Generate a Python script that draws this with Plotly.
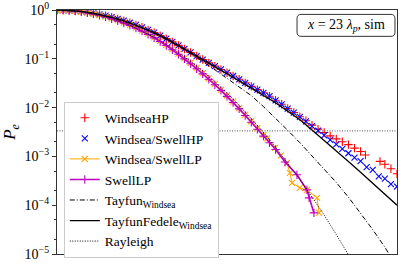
import plotly.graph_objects as go

# ---------------- data ----------------
x_upper = [0.0, 0.025, 0.05, 0.075, 0.1, 0.125, 0.15, 0.175, 0.2, 0.225, 0.25, 0.275, 0.3, 0.325,
           0.35, 0.375, 0.4, 0.425, 0.45, 0.475, 0.5, 0.525, 0.55, 0.575, 0.6, 0.625, 0.65, 0.675,
           0.7, 0.725, 0.75, 0.775, 0.8, 0.825, 0.85, 0.875, 0.9, 0.925, 0.95, 0.975, 1.0, 1.025,
           1.05, 1.075, 1.1, 1.125, 1.15, 1.175, 1.2, 1.225, 1.25, 1.275, 1.3, 1.325, 1.35, 1.375, 1.4]
windsea_swell_hp = [1.0, 0.996, 0.983, 0.963, 0.935, 0.901, 0.860, 0.815, 0.766, 0.713, 0.659, 0.604,
                    0.548, 0.494, 0.442, 0.391, 0.344, 0.299, 0.259, 0.222, 0.188, 0.159, 0.135, 0.114,
                    0.0966, 0.0826, 0.0708, 0.0605, 0.0519, 0.0444, 0.0380, 0.0321, 0.0272, 0.0233,
                    0.0200, 0.0171, 0.0141, 0.0116, 9.57e-3, 7.92e-3, 6.47e-3, 5.20e-3, 4.18e-3,
                    3.36e-3, 2.70e-3, 2.19e-3, 1.76e-3, 1.43e-3, 1.16e-3, 9.46e-4, 8.0e-4, 6.0e-4,
                    5.3e-4, 3.9e-4, 3.5e-4, 2.7e-4, 2.4e-4]

x_red = [0.0, 0.025, 0.05, 0.075, 0.1, 0.125, 0.15, 0.175, 0.2, 0.225, 0.25, 0.275, 0.3, 0.325,
         0.35, 0.375, 0.4, 0.425, 0.45, 0.475, 0.5, 0.525, 0.55, 0.575, 0.6, 0.625, 0.65, 0.675,
         0.7, 0.725, 0.75, 0.775, 0.8, 0.825, 0.85, 0.875, 0.9, 0.925, 0.95, 0.975, 1.0, 1.025,
         1.05, 1.075, 1.1, 1.125, 1.15, 1.175, 1.2, 1.225, 1.25, 1.27, 1.33, 1.35, 1.375, 1.4]
windsea_hp = [1.0, 0.996, 0.983, 0.963, 0.935, 0.901, 0.860, 0.815, 0.766, 0.713, 0.659, 0.604,
              0.548, 0.494, 0.442, 0.391, 0.344, 0.299, 0.259, 0.222, 0.188, 0.159, 0.135, 0.114,
              0.0966, 0.0826, 0.0708, 0.0605, 0.0519, 0.0444, 0.0380, 0.0321, 0.0272, 0.0233,
              0.0200, 0.0171, 0.0141, 0.0117, 9.6e-3, 7.95e-3, 6.5e-3, 5.37e-3, 4.37e-3,
              3.63e-3, 3.09e-3, 2.63e-3, 2.29e-3, 2.0e-3, 1.74e-3, 1.48e-3, 1.26e-3, 1.07e-3,
              7.9e-4, 6.9e-4, 5.6e-4, 4.4e-4]

x_lp = [0.0, 0.025, 0.05, 0.075, 0.1, 0.125, 0.15, 0.175, 0.2, 0.225, 0.25, 0.275, 0.3, 0.325,
        0.35, 0.375, 0.4, 0.425, 0.45, 0.475, 0.5, 0.525, 0.55, 0.575, 0.6, 0.625, 0.65, 0.675,
        0.7, 0.725, 0.75, 0.775, 0.8, 0.825, 0.85, 0.865, 0.898, 0.922, 0.947, 0.959, 0.968,
        1.0, 1.029, 1.071, 1.079]
windsea_swell_lp = [1.0, 0.995, 0.981, 0.957, 0.925, 0.885, 0.838, 0.787, 0.731, 0.672, 0.612, 0.551,
                    0.492, 0.434, 0.377, 0.324, 0.276, 0.232, 0.192, 0.158, 0.128, 0.103, 0.0820,
                    0.0650, 0.0510, 0.0397, 0.0306, 0.0234, 0.0177, 0.0132, 9.8e-3, 7.2e-3, 5.25e-3,
                    3.8e-3, 2.75e-3, 2.35e-3, 1.5e-3, 1.05e-3, 7.4e-4, 4.6e-4, 2.87e-4, 2.26e-4,
                    2.06e-4, 1.41e-4, 6.95e-5]

x_swell = [0.0, 0.025, 0.05, 0.075, 0.1, 0.125, 0.15, 0.175, 0.2, 0.225, 0.25, 0.275, 0.3, 0.325,
           0.35, 0.375, 0.4, 0.425, 0.45, 0.475, 0.5, 0.525, 0.55, 0.575, 0.6, 0.625, 0.65, 0.675,
           0.7, 0.725, 0.75, 0.775, 0.8, 0.825, 0.85, 0.875, 0.9, 0.939, 0.988, 1.029, 1.038, 1.058]
swell_lp = [1.0, 0.995, 0.980, 0.955, 0.922, 0.881, 0.833, 0.781, 0.724, 0.664, 0.604, 0.543, 0.484,
            0.425, 0.369, 0.317, 0.269, 0.226, 0.187, 0.153, 0.124, 0.0995, 0.0790, 0.0625, 0.0490,
            0.0381, 0.0294, 0.0225, 0.0170, 0.0127, 9.4e-3, 6.9e-3, 5.0e-3, 3.6e-3, 2.6e-3,
            1.9e-3, 1.38e-3, 7.7e-4, 4.2e-4, 2.06e-4, 1.41e-4, 6.95e-5]

x_model = [0.0, 0.05, 0.1, 0.15, 0.2, 0.25, 0.3, 0.35, 0.4, 0.45, 0.5, 0.55, 0.6, 0.65, 0.7,
           0.75, 0.8, 0.85, 0.9, 0.95, 1.0, 1.05, 1.1, 1.15, 1.2, 1.25, 1.3, 1.35, 1.4]
tayfun_windsea = [1.0, 0.982, 0.931, 0.853, 0.755, 0.646, 0.535, 0.429, 0.333, 0.249, 0.181, 0.128,
                  0.0881, 0.0596, 0.0398, 0.0269, 0.0176, 0.0105, 6.10e-3, 3.43e-3, 1.91e-3,
                  1.02e-3, 5.50e-4, 2.92e-4, 1.46e-4, 6.84e-5, 3.16e-5, 1.38e-5, 5.4e-6]
tayfun_fedele_windsea = [1.0, 0.983, 0.936, 0.860, 0.766, 0.659, 0.548, 0.442, 0.344, 0.259, 0.188,
                         0.135, 0.0966, 0.0692, 0.0495, 0.0355, 0.0254, 0.0182, 0.0126, 8.43e-3,
                         5.64e-3, 3.48e-3, 2.14e-3, 1.31e-3, 7.87e-4, 4.74e-4, 2.86e-4, 1.72e-4, 1.0e-4]
x_rayleigh = [0.0, 0.05, 0.1, 0.15, 0.2, 0.25, 0.3, 0.35, 0.4, 0.45, 0.5, 0.55, 0.6, 0.65, 0.7,
              0.75, 0.8, 0.85, 0.9, 0.95, 1.0, 1.05, 1.1, 1.15, 1.2, 1.25]
rayleigh = [1.0, 0.980, 0.923, 0.835, 0.726, 0.607, 0.487, 0.375, 0.278, 0.198, 0.135, 0.0889,
            0.0561, 0.0340, 0.0198, 0.0111, 5.99e-3, 3.11e-3, 1.54e-3, 7.3e-4, 3.35e-4, 1.47e-4,
            6.3e-5, 2.5e-5, 1.0e-5, 3.7e-6]

threshold_level = 1 / 300
y_tick_vals = [1e-5, 1e-4, 1e-3, 1e-2, 1e-1, 1e0]
y_tick_text = ["10<sup>−5</sup>", "10<sup>−4</sup>", "10<sup>−3</sup>",
               "10<sup>−2</sup>", "10<sup>−1</sup>", "10<sup>0</sup>"]

SERIF = "Liberation Serif, DejaVu Serif, serif"

fig = go.Figure()

fig.add_trace(go.Scatter(
    x=x_red, y=windsea_hp, mode="markers", name="WindseaHP",
    marker=dict(symbol="cross-thin", size=6, line=dict(color="#ff0000", width=1.1), color="#ff0000")))
fig.add_trace(go.Scatter(
    x=x_upper, y=windsea_swell_hp, mode="markers", name="Windsea/SwellHP",
    marker=dict(symbol="x-thin", size=6, line=dict(color="#0000ff", width=1.1), color="#0000ff")))
fig.add_trace(go.Scatter(
    x=x_lp, y=windsea_swell_lp, mode="lines+markers", name="Windsea/SwellLP",
    line=dict(color="#ffa500", width=1),
    marker=dict(symbol="x-thin", size=6, line=dict(color="#ffa500", width=1.1), color="#ffa500")))
fig.add_trace(go.Scatter(
    x=x_swell, y=swell_lp, mode="lines+markers", name="SwellLP",
    line=dict(color="#c000c0", width=1.6),
    marker=dict(symbol="cross-thin", size=6, line=dict(color="#c000c0", width=1.1), color="#c000c0")))
fig.add_trace(go.Scatter(
    x=x_model, y=tayfun_windsea, mode="lines", name="Tayfun<sub>Windsea</sub>",
    line=dict(color="black", width=1, dash="5px,2px,1px,2px")))
fig.add_trace(go.Scatter(
    x=x_model, y=tayfun_fedele_windsea, mode="lines", name="TayfunFedele<sub>Windsea</sub>",
    line=dict(color="black", width=1.3)))
fig.add_trace(go.Scatter(
    x=x_rayleigh, y=rayleigh, mode="lines", name="Rayleigh",
    line=dict(color="black", width=1, dash="1px,1.5px")))

fig.add_shape(type="line", xref="paper", x0=0, x1=1, yref="y",
              y0=threshold_level, y1=threshold_level,
              line=dict(color="#555", width=1, dash="1px,1.5px"), layer="below")

# rounded box behind the top-right label (paper coordinates)
bx0, bx1, by0, by1, rx, ry = 0.706, 0.994, 0.892, 0.982, 0.012, 0.017
box_path = (f"M {bx0+rx},{by0} L {bx1-rx},{by0} Q {bx1},{by0} {bx1},{by0+ry} "
            f"L {bx1},{by1-ry} Q {bx1},{by1} {bx1-rx},{by1} L {bx0+rx},{by1} "
            f"Q {bx0},{by1} {bx0},{by1-ry} L {bx0},{by0+ry} Q {bx0},{by0} {bx0+rx},{by0} Z")
fig.add_shape(type="path", xref="paper", yref="paper", path=box_path,
              line=dict(color="#333", width=1), fillcolor="white", layer="above")

fig.add_annotation(
    xref="paper", yref="paper", x=(bx0 + bx1) / 2, y=(by0 + by1) / 2,
    xanchor="center", yanchor="middle",
    text="<i>x</i> = 23 <i>λ</i><sub><i>p</i></sub>, sim", showarrow=False,
    font=dict(family=SERIF, size=14, color="black"))

fig.update_layout(
    width=407, height=267,
    margin=dict(l=57, r=10, t=10, b=13, autoexpand=False),
    paper_bgcolor="white", plot_bgcolor="white",
    font=dict(family=SERIF, size=14, color="black"),
    showlegend=True,
    legend=dict(x=0.02, y=0.625, xanchor="left", yanchor="top",
                bgcolor="white", bordercolor="#cccccc", borderwidth=1,
                font=dict(family=SERIF, size=13.5), tracegroupgap=0),
    xaxis=dict(range=[0, 1.4], showticklabels=False, ticks="", showgrid=False, automargin=False,
               zeroline=False, showline=True, linecolor="#333", linewidth=1.3, mirror=True),
    yaxis=dict(type="log", range=[-5, 0], tickvals=y_tick_vals, ticktext=y_tick_text,
               ticks="outside", ticklen=4, tickcolor="#333", showgrid=False, zeroline=False,
               automargin=False, ticklabeloverflow="allow",
               showline=True, linecolor="#333", linewidth=1.3, mirror=True,
               tickfont=dict(family=SERIF, size=14),
               minor=dict(ticks="outside", ticklen=2, tickcolor="#333", showgrid=False),
               title=dict(text="<i>P</i><sub><i>e</i></sub>", font=dict(family=SERIF, size=17),
                          standoff=4)),
)

# remove the default 8px page margin so the figure fills the window exactly
fig.write_html("out.html", config={"displayModeBar": False},
               post_script="document.body.style.margin='0px';")
